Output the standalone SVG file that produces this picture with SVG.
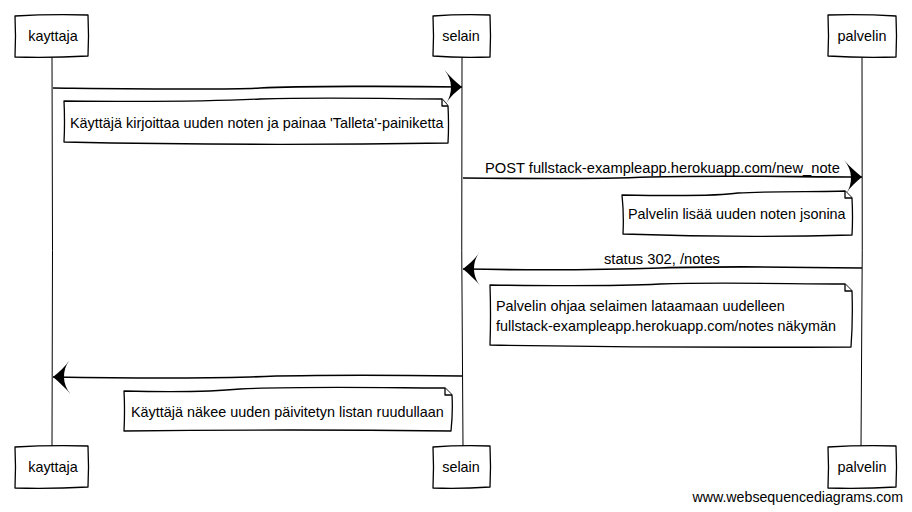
<svg xmlns="http://www.w3.org/2000/svg" width="912" height="512" viewBox="0 0 912 512">
<style>
.box{fill:#fff;stroke:#000;stroke-width:1.3;stroke-linejoin:round}
.life{fill:none;stroke:#000;stroke-width:1}
.msg{fill:none;stroke:#000;stroke-width:1.6}
.t{font-family:"Liberation Sans",Arial,sans-serif;font-size:14.4px;fill:#000}
.lbl{font-size:14.7px}
.c{text-anchor:middle}
</style>
<defs>
<marker id="ah" markerUnits="userSpaceOnUse" markerWidth="20" markerHeight="34" viewBox="0 0 20 34" refX="18" refY="17" orient="auto" overflow="visible">
<path d="M0,0 C6,7 12,12 18,17 C12,22 6,27 2,34 C9,24 9,10 0,0 Z" fill="#000"/>
</marker>
</defs>
<g id="lifelines">
<path class="life" d="M52,57 Q53,250 52,446"/>
<path class="life" d="M462,57 Q461,250 463,446"/>
<path class="life" d="M862,57 Q863,250 861,446"/>
</g>
<g id="kayttaja-top">
<path class="box" d="M15,16 Q50,14 88,15 Q89,36 88,56 Q50,58 15,57 Q16,36 15,16 Z"/>
<text class="t c" x="53" y="41">kayttaja</text>
</g>
<g id="selain-top">
<path class="box" d="M433,16 Q460,14 490,15 Q491,36 490,57 Q460,58 433,56 Q434,36 433,16 Z"/>
<text class="t c" x="461" y="41">selain</text>
</g>
<g id="palvelin-top">
<path class="box" d="M828,15 Q862,14 896,16 Q897,36 896,57 Q862,58 828,56 Q829,36 828,15 Z"/>
<text class="t c" x="862" y="41">palvelin</text>
</g>
<g id="kayttaja-bottom">
<path class="box" d="M15,447 Q50,445 88,446 Q89,467 88,487 Q50,489 15,488 Q16,467 15,447 Z"/>
<text class="t c" x="53" y="472">kayttaja</text>
</g>
<g id="selain-bottom">
<path class="box" d="M433,447 Q460,445 490,446 Q491,467 490,487 Q460,489 433,488 Q434,467 433,447 Z"/>
<text class="t c" x="461" y="472">selain</text>
</g>
<g id="palvelin-bottom">
<path class="box" d="M828,447 Q862,445 896,446 Q897,467 896,487 Q862,489 828,488 Q829,467 828,447 Z"/>
<text class="t c" x="862" y="472">palvelin</text>
</g>
<g id="connectors">
<path class="msg" d="M53,88 C150,89 230,90 260,88 C300,86 400,86 462,87" marker-end="url(#ah)"/>
<path class="msg" d="M463,178 C550,179 600,179 650,177 C720,175 800,177 862,177" marker-end="url(#ah)"/>
<path class="msg" d="M862,268 C800,267 720,266 660,268 C600,270 520,270 463,269" marker-end="url(#ah)"/>
<path class="msg" d="M462,376 C380,375 300,375 250,377 C180,379 110,378 53,377" marker-end="url(#ah)"/>
</g>
<g id="label-post"><text class="t lbl" x="485" y="173">POST fullstack-exampleapp.herokuapp.com/new_note</text></g>
<g id="label-status"><text class="t lbl c" x="662" y="264">status 302, /notes</text></g>
<g id="note1">
<path class="box" d="M64,101 C150,102 220,101 260,99 C330,97 400,99 442,99 L448,106 Q449,125 448,143 Q250,146 64,142 Q65,122 64,101 Z"/>
<path class="box" d="M442,99 L442,106 L448,106" fill="none"/>
<text class="t" x="70" y="128">Käyttäjä kirjoittaa uuden noten ja painaa 'Talleta'-painiketta</text>
</g>
<g id="note2">
<path class="box" d="M622,195 C680,196 720,196 738,193 C770,191 820,192 845,191 L852,198 Q853,218 852,235 Q740,238 623,234 Q624,214 622,195 Z"/>
<path class="box" d="M845,191 L845,198 L852,198" fill="none"/>
<text class="t" x="628" y="219">Palvelin lisää uuden noten jsonina</text>
</g>
<g id="note3">
<path class="box" d="M490,285 C560,286 620,286 660,284 C720,282 790,284 845,284 L852,291 Q853,320 851,347 Q670,348 490,345 Q491,315 490,285 Z"/>
<path class="box" d="M845,284 L845,291 L852,291" fill="none"/>
<text class="t" x="496" y="311">Palvelin ohjaa selaimen lataamaan uudelleen</text>
<text class="t" x="496" y="331">fullstack-exampleapp.herokuapp.com/notes näkymän</text>
</g>
<g id="note4">
<path class="box" d="M124,391 C170,392 210,392 240,389 C300,386 400,388 445,388 L452,395 Q453,412 451,431 Q290,429 124,431 Q125,410 124,391 Z"/>
<path class="box" d="M445,388 L445,395 L452,395" fill="none"/>
<text class="t" x="131" y="417">Käyttäjä näkee uuden päivitetyn listan ruudullaan</text>
</g>
<text class="t" x="903" y="502" text-anchor="end" style="font-size:14.2px">www.websequencediagrams.com</text>
</svg>
